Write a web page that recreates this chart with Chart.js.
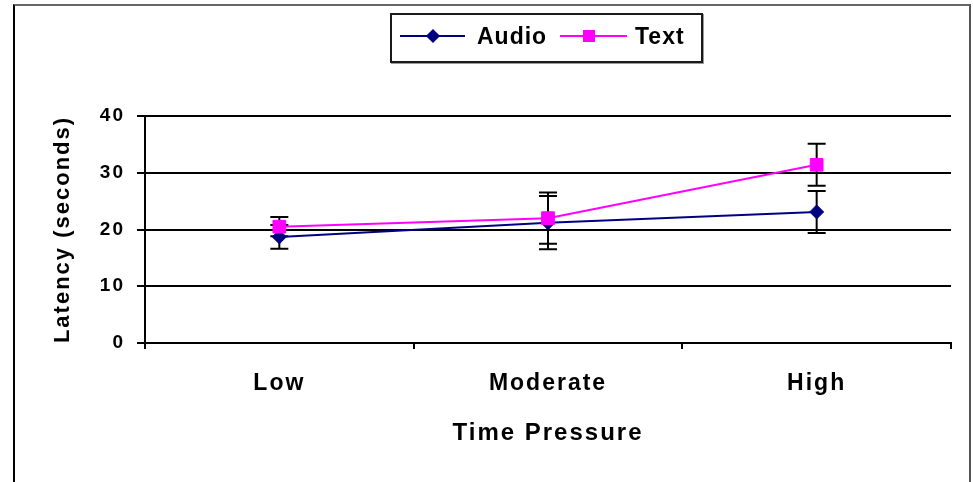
<!DOCTYPE html>
<html>
<head>
<meta charset="utf-8">
<script src="https://cdn.jsdelivr.net/npm/chart.js@4.4.1/dist/chart.umd.min.js"></script>
<style>
  body { margin: 0; background: #fff; font-family: "Liberation Sans", Arial, sans-serif; }
  #wrap { position: relative; width: 973px; height: 482px; overflow: hidden; }
  #frame {
    position: absolute; left: 13px; top: 4px; width: 954px; height: 500px;
    border-left: 2px solid #000; border-top: 2px solid #666; border-right: 2px solid #555;
  }
  #legend {
    position: absolute; left: 390px; top: 13px; width: 309px; height: 46px;
    border: 2px solid #1a1a1a; background: #fff; box-shadow: 1px 1px 0 #999;
  }
  .lg { position: absolute; }
  .lbl { position: absolute; font: bold 23px "Liberation Sans", Arial, sans-serif; letter-spacing: 1px; line-height: 26px; color: #000; }
</style>
</head>
<body>
<div id="wrap">
  <canvas id="chart" width="973" height="482"></canvas>
  <div id="frame"></div>
  <div id="legend"></div>
  <div class="lg" style="left:400px;top:35px;width:65px;height:2px;background:#000080"></div>
  <div class="lg" style="left:428px;top:31px;width:10px;height:10px;background:#000080;transform:rotate(45deg)"></div>
  <div class="lbl" style="left:477px;top:23px">Audio</div>
  <div class="lg" style="left:560px;top:35px;width:67px;height:2px;background:#ff00ff"></div>
  <div class="lg" style="left:583px;top:30px;width:12px;height:12px;background:#ff00ff"></div>
  <div class="lbl" style="left:635px;top:23px">Text</div>
</div>
<script>
// categories and values
const categories = ['Low', 'Moderate', 'High'];
const audioValues = [18.7, 21.2, 23.1];
const audioErrors = [2.1, 4.7, 3.7];
const textValues = [20.5, 22.0, 31.4];
const textErrors = [1.7, 4.5, 3.7];
const yTicks = [0, 10, 20, 30, 40];

const fontFamily = '"Liberation Sans", Arial, sans-serif';

// wider letter spacing, like the original
const spacing = {
  id: 'spacing',
  beforeUpdate(chart) { chart.ctx.letterSpacing = '2px'; },
  beforeDraw(chart) { chart.ctx.letterSpacing = '2px'; }
};

// vertical error bars with caps, drawn before lines and markers
const errorBars = {
  id: 'errorBars',
  beforeDatasetsDraw(chart) {
    const ctx = chart.ctx;
    const x = chart.scales.x;
    const y = chart.scales.y;
    ctx.save();
    ctx.strokeStyle = '#000';
    ctx.lineWidth = 2;
    chart.data.datasets.forEach(ds => {
      ds.data.forEach((v, i) => {
        const px = x.getPixelForValue(i);
        const top = y.getPixelForValue(v + ds.errors[i]);
        const bottom = y.getPixelForValue(v - ds.errors[i]);
        ctx.beginPath();
        ctx.moveTo(px, top);
        ctx.lineTo(px, bottom);
        ctx.moveTo(px - 9, top);
        ctx.lineTo(px + 9, top);
        ctx.moveTo(px - 9, bottom);
        ctx.lineTo(px + 9, bottom);
        ctx.stroke();
      });
    });
    ctx.restore();
  }
};

const chart = new Chart(document.getElementById('chart'), {
  type: 'line',
  data: {
    labels: categories,
    datasets: [{
      label: 'Audio',
      data: audioValues,
      errors: audioErrors,
      borderColor: '#000080',
      backgroundColor: '#000080',
      borderWidth: 2,
      pointStyle: 'rectRot',
      pointRadius: 7,
      pointBorderWidth: 1,
      order: 1
    }, {
      label: 'Text',
      data: textValues,
      errors: textErrors,
      borderColor: '#ff00ff',
      backgroundColor: '#ff00ff',
      borderWidth: 2,
      pointStyle: 'rect',
      pointRadius: 9,
      pointBorderWidth: 1,
      order: 0
    }]
  },
  options: {
    responsive: false,
    animation: false,
    layout: {
      padding: { top: 116, right: 22, left: 0, bottom: 0 }
    },
    plugins: {
      legend: { display: false },
      tooltip: { enabled: false }
    },
    scales: {
      x: {
        offset: true,
        afterFit(scale) { scale.height = 139; },
        grid: {
          offset: true,
          drawOnChartArea: false,
          tickLength: 6,
          color: '#000',
          lineWidth: 2
        },
        border: { color: '#000', width: 2 },
        ticks: {
          color: '#000',
          padding: 21,
          font: { family: fontFamily, size: 23, weight: 'bold' }
        },
        title: {
          display: true,
          text: 'Time Pressure',
          color: '#000',
          padding: { top: 0, bottom: 34 },
          font: { family: fontFamily, size: 24, weight: 'bold' }
        }
      },
      y: {
        min: yTicks[0],
        max: yTicks[yTicks.length - 1],
        afterFit(scale) { scale.width = 145; },
        afterBuildTicks(scale) { scale.ticks = yTicks.map(v => ({ value: v })); },
        grid: {
          color: '#000',
          lineWidth: 2,
          tickLength: 8
        },
        border: { color: '#000', width: 2 },
        ticks: {
          color: '#000',
          padding: 12,
          font: { family: fontFamily, size: 19, weight: 'bold' }
        },
        title: {
          display: true,
          text: 'Latency (seconds)',
          color: '#000',
          padding: { top: 50, bottom: 0 },
          font: { family: fontFamily, size: 22, weight: 'bold' }
        }
      }
    }
  },
  plugins: [spacing, errorBars]
});
</script>
</body>
</html>
